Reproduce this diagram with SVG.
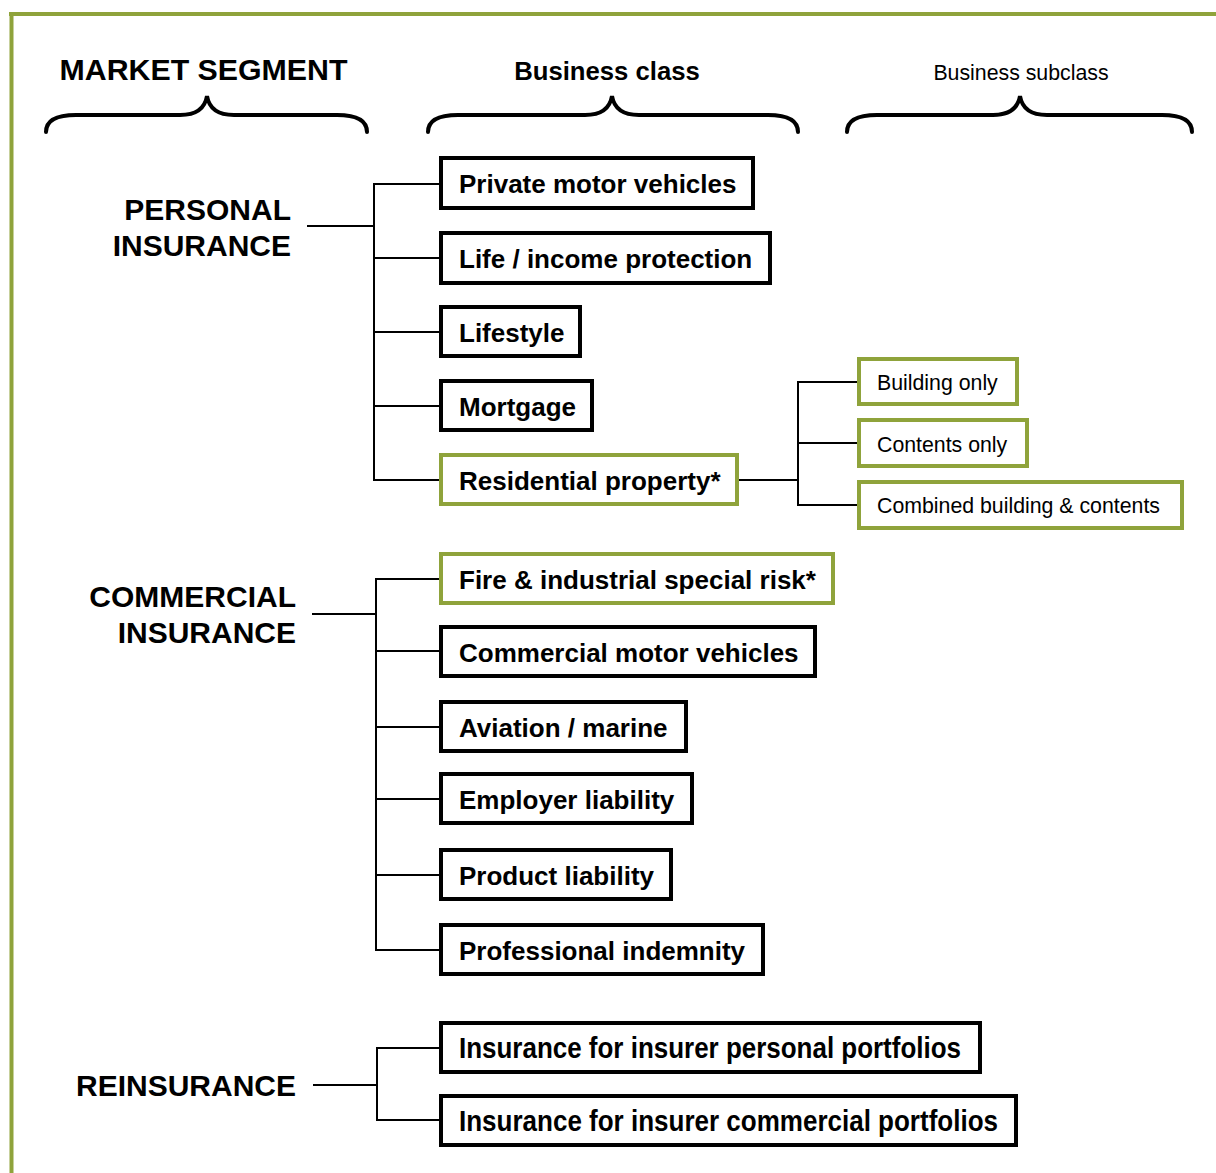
<svg xmlns="http://www.w3.org/2000/svg" width="1216" height="1173" viewBox="0 0 1216 1173">
  <style>
    .frame { stroke: #8fa33b; stroke-width: 4; fill: none; }
    .brace { stroke: #000; stroke-width: 4; fill: none; stroke-linecap: round; }
    .head { font-family: "Liberation Sans", Arial, sans-serif; fill: #000; }
    .seg { font-family: "Liberation Sans", Arial, sans-serif; font-weight: bold; font-size: 30px; fill: #000; text-anchor: end; }
    .box { fill: #fff; stroke: #000; stroke-width: 4; }
    .box.hl { stroke: #8fa33b; }
    .sub { fill: #fff; stroke: #8fa33b; stroke-width: 4; }
    .lbl { font-family: "Liberation Sans", Arial, sans-serif; font-weight: bold; font-size: 26px; fill: #000; }
    .lbln { font-family: "Liberation Sans", Arial, sans-serif; font-weight: bold; font-size: 29px; fill: #000; }
    .slbl { font-family: "Liberation Sans", Arial, sans-serif; font-size: 21.3px; fill: #000; }
    .wire { stroke: #000; stroke-width: 2; fill: none; }
  </style>

  <!-- page frame -->
  <line class="frame" x1="9" y1="14" x2="1216" y2="14"/>
  <line class="frame" x1="11.5" y1="12" x2="11.5" y2="1173"/>

  <!-- column headings with braces -->
  <g id="heading-segment">
    <text class="head" x="203.5" y="80" font-size="30.3" font-weight="bold" text-anchor="middle">MARKET SEGMENT</text>
    <path class="brace" d="M46,132 C46,121 56,115 76,115 L180,115 C196,115 205,108 207,96 C209,108 218,115 234,115 L337,115 C357,115 367,121 367,132"/>
  </g>
  <g id="heading-class">
    <text class="head" x="607" y="80" font-size="25.7" font-weight="bold" text-anchor="middle">Business class</text>
    <path class="brace" d="M428,132 C428,121 438,115 458,115 L585,115 C601,115 610,108 612,96 C614,108 623,115 639,115 L768,115 C788,115 798,121 798,132"/>
  </g>
  <g id="heading-subclass">
    <text class="head" x="1021" y="80" font-size="21.3" text-anchor="middle">Business subclass</text>
    <path class="brace" d="M847,132 C847,121 857,115 877,115 L993,115 C1009,115 1018,108 1020,96 C1022,108 1031,115 1047,115 L1162,115 C1182,115 1192,121 1192,132"/>
  </g>

  <!-- connectors -->
  <g id="connectors">
    <!-- personal insurance -->
    <line class="wire" x1="307" y1="226" x2="374" y2="226"/>
    <line class="wire" x1="374" y1="183" x2="374" y2="481"/>
    <line class="wire" x1="374" y1="184" x2="441" y2="184"/>
    <line class="wire" x1="374" y1="258" x2="441" y2="258"/>
    <line class="wire" x1="374" y1="332" x2="441" y2="332"/>
    <line class="wire" x1="374" y1="406" x2="441" y2="406"/>
    <line class="wire" x1="374" y1="480" x2="441" y2="480"/>
    <!-- residential property subclasses -->
    <line class="wire" x1="738" y1="480" x2="798" y2="480"/>
    <line class="wire" x1="798" y1="381" x2="798" y2="506"/>
    <line class="wire" x1="798" y1="382" x2="859" y2="382"/>
    <line class="wire" x1="798" y1="443" x2="859" y2="443"/>
    <line class="wire" x1="798" y1="505" x2="859" y2="505"/>
    <!-- commercial insurance -->
    <line class="wire" x1="312" y1="614" x2="376" y2="614"/>
    <line class="wire" x1="376" y1="578" x2="376" y2="951"/>
    <line class="wire" x1="376" y1="579" x2="441" y2="579"/>
    <line class="wire" x1="376" y1="651" x2="441" y2="651"/>
    <line class="wire" x1="376" y1="727" x2="441" y2="727"/>
    <line class="wire" x1="376" y1="799" x2="441" y2="799"/>
    <line class="wire" x1="376" y1="875" x2="441" y2="875"/>
    <line class="wire" x1="376" y1="950" x2="441" y2="950"/>
    <!-- reinsurance -->
    <line class="wire" x1="313" y1="1085" x2="377" y2="1085"/>
    <line class="wire" x1="377" y1="1047" x2="377" y2="1121"/>
    <line class="wire" x1="377" y1="1048" x2="441" y2="1048"/>
    <line class="wire" x1="377" y1="1120" x2="441" y2="1120"/>
  </g>

  <!-- market segments -->
  <g id="seg-personal">
    <text class="seg" x="291" y="220">PERSONAL</text>
    <text class="seg" x="291" y="256">INSURANCE</text>
  </g>
  <g id="seg-commercial">
    <text class="seg" x="296" y="607">COMMERCIAL</text>
    <text class="seg" x="296" y="643">INSURANCE</text>
  </g>
  <g id="seg-reinsurance">
    <text class="seg" x="296" y="1096">REINSURANCE</text>
  </g>

  <!-- business classes: personal -->
  <g id="cls-private-motor">
    <rect class="box" x="441" y="158" width="312" height="50"/>
    <text class="lbl" x="459" y="193">Private motor vehicles</text>
  </g>
  <g id="cls-life">
    <rect class="box" x="441" y="233" width="329" height="50"/>
    <text class="lbl" x="459" y="268">Life / income protection</text>
  </g>
  <g id="cls-lifestyle">
    <rect class="box" x="441" y="307" width="139" height="49"/>
    <text class="lbl" x="459" y="342">Lifestyle</text>
  </g>
  <g id="cls-mortgage">
    <rect class="box" x="441" y="381" width="151" height="49"/>
    <text class="lbl" x="459" y="416">Mortgage</text>
  </g>
  <g id="cls-residential">
    <rect class="box hl" x="441" y="455" width="296" height="49"/>
    <text class="lbl" x="459" y="490">Residential property*</text>
  </g>

  <!-- business subclasses -->
  <g id="sub-building">
    <rect class="sub" x="859" y="359" width="158" height="45"/>
    <text class="slbl" x="877" y="390">Building only</text>
  </g>
  <g id="sub-contents">
    <rect class="sub" x="859" y="420" width="168" height="46"/>
    <text class="slbl" x="877" y="452">Contents only</text>
  </g>
  <g id="sub-combined">
    <rect class="sub" x="859" y="482" width="323" height="46"/>
    <text class="slbl" x="877" y="513">Combined building &amp; contents</text>
  </g>

  <!-- business classes: commercial -->
  <g id="cls-fire">
    <rect class="box hl" x="441" y="554" width="392" height="49"/>
    <text class="lbl" x="459" y="589">Fire &amp; industrial special risk*</text>
  </g>
  <g id="cls-commercial-motor">
    <rect class="box" x="441" y="627" width="374" height="49"/>
    <text class="lbl" x="459" y="662">Commercial motor vehicles</text>
  </g>
  <g id="cls-aviation">
    <rect class="box" x="441" y="702" width="245" height="49"/>
    <text class="lbl" x="459" y="737">Aviation / marine</text>
  </g>
  <g id="cls-employer">
    <rect class="box" x="441" y="774" width="251" height="49"/>
    <text class="lbl" x="459" y="809">Employer liability</text>
  </g>
  <g id="cls-product">
    <rect class="box" x="441" y="850" width="230" height="49"/>
    <text class="lbl" x="459" y="885">Product liability</text>
  </g>
  <g id="cls-professional">
    <rect class="box" x="441" y="925" width="322" height="49"/>
    <text class="lbl" x="459" y="960">Professional indemnity</text>
  </g>

  <!-- business classes: reinsurance -->
  <g id="cls-re-personal">
    <rect class="box" x="441" y="1023" width="539" height="49"/>
    <text class="lbln" x="459" y="1058" textLength="502" lengthAdjust="spacingAndGlyphs">Insurance for insurer personal portfolios</text>
  </g>
  <g id="cls-re-commercial">
    <rect class="box" x="441" y="1096" width="575" height="49"/>
    <text class="lbln" x="459" y="1131" textLength="539" lengthAdjust="spacingAndGlyphs">Insurance for insurer commercial portfolios</text>
  </g>
</svg>
